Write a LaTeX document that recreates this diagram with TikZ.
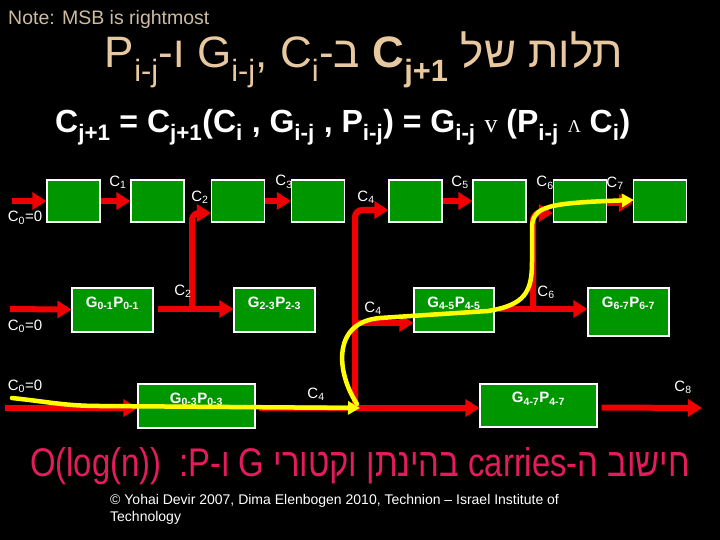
\documentclass[tikz,border=0pt]{standalone}
\usepackage{fontspec}
\usepackage{xcolor}
\usepackage{tikz}
\usetikzlibrary{arrows.meta, positioning, calc}
\setmainfont{Liberation Sans}
\newfontfamily\hebfont[Script=Hebrew]{Liberation Sans}
\newfontfamily\narrowhebfont[Script=Hebrew,FakeStretch=0.82]{Liberation Sans}
\newfontfamily\serifsym{Liberation Serif}
\TeXXeTstate=1
\definecolor{boxgreen}{RGB}{0,150,0}
\definecolor{carryred}{RGB}{240,0,0}
\definecolor{pathyellow}{RGB}{255,255,0}
\definecolor{titlebeige}{RGB}{232,200,158}
\definecolor{notebeige}{RGB}{205,188,162}
\definecolor{hotpink}{RGB}{228,28,92}

\begin{document}
\begin{tikzpicture}[x=1pt, y=-1pt,
    blk/.style={draw=white, line width=1.2pt, fill=boxgreen, minimum width=53pt,
      minimum height=42pt, inner sep=0pt},
    gp/.style={blk, text=white, font=\bfseries\fontsize{15}{15}\selectfont, text depth=16pt},
    carry/.style={draw=carryred, line width=6pt, -{Triangle[length=14pt,width=17pt]}},
    crit/.style={draw=pathyellow, line width=4.5pt, line cap=round,
      -{Triangle[length=12pt,width=13pt]}},
    lbl/.style={text=white, font=\fontsize{15}{15}\selectfont, inner sep=0pt}]
  \fill[black] (0,0) rectangle (720,540);
  \useasboundingbox (0,0) rectangle (720,540);
  % headings
  \node[anchor=base west, text=notebeige, font=\fontsize{19.5}{19.5}\selectfont,
    inner sep=0pt] (note) at (8,25) {Note: MSB is rightmost};
  \node[anchor=base, text=titlebeige, font=\hebfont\fontsize{44}{44}\selectfont,
    inner sep=0pt] (title) at (364,68)
    {\beginR תלות של \beginL{\bfseries C\textsubscript{j+1}}\endL{} ב-\beginL C\textsubscript{i}\endL{} \beginL G\textsubscript{i-j},\endL{} ו-\beginL P\textsubscript{i-j}\endL\endR};
  \node[anchor=base west, text=white, font=\bfseries\fontsize{32}{32}\selectfont,
    inner sep=0pt] (eqn) at (55,133)
    {C\textsubscript{j+1} = C\textsubscript{j+1}(C\textsubscript{i} , G\textsubscript{i-j} , P\textsubscript{i-j}) = G\textsubscript{i-j} {\serifsym\mdseries\fontsize{26}{26}\selectfont v} (P\textsubscript{i-j} {\serifsym\mdseries\fontsize{18}{18}\selectfont Λ} C\textsubscript{i})};
  % top row
  \foreach \x [count=\i] in {73.5,157.5,238,318,415.5,499.5,580,660}
    \node[blk] (t\i) at (\x,201) {};
  % middle and bottom rows
  \node[gp, minimum width=81pt, minimum height=44pt] (m1) at (112.5,310) {G\textsubscript{0-1}P\textsubscript{0-1}};
  \node[gp, minimum width=81pt, minimum height=44pt] (m2) at (274.5,310) {G\textsubscript{2-3}P\textsubscript{2-3}};
  \node[gp, minimum width=80pt, minimum height=44pt] (m3) at (454,310) {G\textsubscript{4-5}P\textsubscript{4-5}};
  \node[gp, minimum width=81pt, minimum height=48pt, text depth=20pt] (m4) at (628.5,312) {G\textsubscript{6-7}P\textsubscript{6-7}};
  \node[gp, minimum width=117pt, minimum height=44pt] (b1) at (196.5,406) {G\textsubscript{0-3}P\textsubscript{0-3}};
  \node[gp, minimum width=117pt, minimum height=43pt] (b2) at (538.5,405.5) {G\textsubscript{4-7}P\textsubscript{4-7}};
  % carry ends
  \coordinate (c0t) at (12,201);
  \coordinate (c0m) at (10,309);
  \coordinate (c0b) at (5,408);
  \coordinate (c8) at (702,408);
  \coordinate (j2) at (192,309);
  \coordinate (j4) at (355,408);
  \coordinate (j4m) at (355,323);
  \coordinate (j6) at (533,309);
  % red carries
  \draw[carry] (c0t) -- (t1);
  \draw[carry] (t1) -- (t2);
  \draw[carry] (t3) -- (t4);
  \draw[carry] (t5) -- (t6);
  \draw[carry] ($(t7.east)+(0,2)$) -- ($(t8.west)+(0,2)$);
  \draw[carry] (c0m) -- (m1);
  \draw[carry] ($(m1.east)+(4,-1)$) -- (m2.west |- j2);
  \draw[carry] ($(m3.east)+(4,-1)$) -- (m4.west |- j6);
  \draw[carry] (j4m) -- (m3.west |- j4m);
  \draw[carry] (c0b) -- (b1.west |- c0b);
  \draw[carry] ($(b1.east)+(3,2)$) -- (b2.west |- j4);
  \draw[carry] ($(b2.east)+(4,2)$) -- (c8);
  \draw[carry, rounded corners=7pt] (j2) |- ($(t3.west)+(0,12)$);
  \draw[carry, rounded corners=7pt] (j4) |- ($(t5.west)+(0,9)$);
  \draw[carry, rounded corners=7pt] (j6) |- ($(t7.west)+(0,12)$);
  % critical path
  \coordinate (ys) at (12,398);
  \coordinate (yb) at (360,408);
  \coordinate (yt) at ($(t8.west)+(1,-1)$);
  \draw[crit] (ys) to[out=-6, in=180] (100,406) -- (yb);
  \draw[crit] (357,404) .. controls (336,372) and (332,322) .. (380,318) -- (488,311)
    .. controls (525,305) and (532,292) .. (532,262) -- (532,228)
    .. controls (532,206) and (548,203) .. (yt);
  % carry labels
  \node[lbl] (lt0) at (25,218) {C\textsubscript{0}=0};
  \node[lbl] (lt1) at (118,182) {C\textsubscript{1}};
  \node[lbl] (lt2) at (200,197) {C\textsubscript{2}};
  \node[lbl] (lt3) at (284,182) {C\textsubscript{3}};
  \node[lbl] (lt4) at (366,197) {C\textsubscript{4}};
  \node[lbl] (lt5) at (460,182) {C\textsubscript{5}};
  \node[lbl] (lt6) at (545,183) {C\textsubscript{6}};
  \node[lbl] (lt7) at (615,183) {C\textsubscript{7}};
  \node[lbl] (lm0) at (25,326) {C\textsubscript{0}=0};
  \node[lbl] (lm2) at (183,291) {C\textsubscript{2}};
  \node[lbl] (lm4) at (373,308) {C\textsubscript{4}};
  \node[lbl] (lm6) at (546,292) {C\textsubscript{6}};
  \node[lbl] (lb0) at (25,386) {C\textsubscript{0}=0};
  \node[lbl] (lb4) at (316,394) {C\textsubscript{4}};
  \node[lbl] (lb8) at (683,387) {C\textsubscript{8}};
  % footer
  \node[anchor=base, text=hotpink, font=\narrowhebfont\fontsize{40}{40}\selectfont,
    inner sep=0pt] (cost) at (360,476)
    {\beginR חישוב ה-\beginL carries\endL{} בהינתן וקטורי \beginL G\endL{} ו-\beginL P\endL:\hspace{0.45em}\beginL O(log(n))\endL\endR};
  \node[anchor=base west, text=white, font=\fontsize{14}{16.5}\selectfont,
    align=left, inner sep=0pt] (copy) at (110,521)
    {© Yohai Devir 2007, Dima Elenbogen 2010, Technion – Israel Institute of\\Technology};
\end{tikzpicture}
\end{document}
